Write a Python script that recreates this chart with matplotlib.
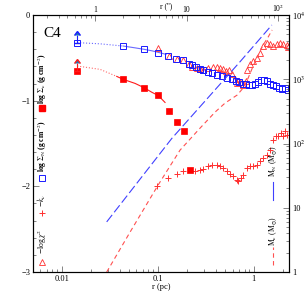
import numpy as np
import matplotlib
matplotlib.use("Agg")
import matplotlib.pyplot as plt
from matplotlib.ticker import FixedLocator, LogLocator, NullFormatter, FuncFormatter, MultipleLocator

plt.rcParams['font.family'] = ['Liberation Serif', 'DejaVu Serif']
plt.rcParams['mathtext.fontset'] = 'stix'

# ---------------- data ----------------
# log Sigma_N (blue open squares)
r_N = [0.0145, 0.0438, 0.072, 0.101, 0.128, 0.155, 0.185, 0.213, 0.229, 0.249, 0.275, 0.298,
       0.336, 0.365, 0.412, 0.464, 0.523, 0.59, 0.655, 0.709, 0.774, 0.832, 0.894, 0.960,
       1.03, 1.11, 1.19, 1.28, 1.38, 1.48, 1.59, 1.71, 1.83, 1.97, 2.12, 2.28]
sig_N = [-0.323, -0.363, -0.401, -0.44, -0.48, -0.51, -0.53, -0.568, -0.588, -0.603, -0.627, -0.643,
         -0.662, -0.674, -0.705, -0.713, -0.732, -0.752, -0.772, -0.784, -0.80, -0.81, -0.822, -0.816,
         -0.80, -0.787, -0.764, -0.758, -0.775, -0.80, -0.822, -0.834, -0.857, -0.869, -0.857, -0.88]

# log Sigma_c (red filled squares)
r_c = [0.0145, 0.0438, 0.072, 0.101, 0.131, 0.157, 0.187, 0.217]
sig_c = [-0.655, -0.752, -0.849, -0.939, -1.123, -1.247, -1.349, -1.813]

# upper-limit arrows at innermost radius
r_lim = [0.0145]
lim_N = [-0.323]
lim_c = [-0.655]

# fitted profiles
r_fitN = [0.0145, 0.0251, 0.0438, 0.0581, 0.072, 0.0873, 0.101, 0.122]
fitN = [-0.323, -0.337, -0.363, -0.384, -0.401, -0.419, -0.436, -0.46]
r_fitc = [0.0145, 0.0251, 0.0374, 0.0438, 0.0581, 0.072, 0.0873, 0.101, 0.119]
fitc = [-0.596, -0.635, -0.717, -0.752, -0.799, -0.849, -0.904, -0.939, -1.021]

# -log chi^2 (red open triangles)
r_d = [0.101, 0.131, 0.158, 0.185, 0.213, 0.226, 0.254, 0.276, 0.298, 0.336, 0.379, 0.411,
       0.445, 0.481, 0.513, 0.555, 0.587, 0.635, 0.670, 0.716, 0.776, 0.822, 0.855, 0.915,
       0.99, 1.07, 1.16, 1.25, 1.36, 1.47, 1.60, 1.73, 1.87, 2.02, 2.19, 2.27]
sig_d = [-0.39, -0.483, -0.518, -0.526, -0.577, -0.608, -0.615, -0.635, -0.643, -0.615, -0.608, -0.603,
         -0.615, -0.635, -0.655, -0.643, -0.694, -0.752, -0.79, -0.784, -0.822, -0.775, -0.643, -0.577,
         -0.538, -0.498, -0.44, -0.363, -0.331, -0.343, -0.363, -0.343, -0.323, -0.343, -0.354, -0.37]

# -k (red plus)
r_k = [0.0976, 0.129, 0.158, 0.185, 0.245, 0.276, 0.299, 0.336, 0.365, 0.412, 0.446, 0.482,
       0.523, 0.567, 0.613, 0.665, 0.691, 0.733, 0.780, 0.846, 0.915, 0.99, 1.07, 1.16,
       1.26, 1.36, 1.48, 1.60, 1.70, 1.80, 1.92, 2.03, 2.12, 2.21]
k_val = [-2.0, -1.902, -1.851, -1.825, -1.825, -1.813, -1.796, -1.766, -1.746, -1.746, -1.758, -1.785,
         -1.825, -1.851, -1.883, -1.930, -1.942, -1.902, -1.863, -1.785, -1.758, -1.766, -1.746, -1.708,
         -1.668, -1.629, -1.571, -1.454, -1.415, -1.415, -1.376, -1.415, -1.357, -1.395]

# cumulative masses (right axis)
r_MN = [0.0294, 0.140, 0.719, 1.54]
M_N = [6.03, 120, 1874, 6980]
r_Mc = [0.0294, 0.0514, 0.1007, 0.1706, 0.276, 0.395, 0.502, 0.670, 0.774, 0.873, 0.984, 1.11, 1.25, 1.41, 1.55]
M_c = [1.0, 4.17, 22.5, 78.9, 174, 308, 426, 567, 729, 1045, 1606, 2384, 3410, 4540, 5840]

# ---------------- figure ----------------
fig = plt.figure(figsize=(3.05, 3.05), dpi=100)
ax = fig.add_axes([0.108, 0.108, 0.840, 0.843])
RED = '#ff1a1a'
BLUE = '#1a1aff'

ax.set_xscale('log')
ax.set_xlim(0.00502, 2.33)
ax.set_ylim(-3, 0)

# fits
ax.plot(r_fitN[:3], fitN[:3], color='#6a6aff', lw=0.8, ls=':')
ax.plot(r_fitN[2:], fitN[2:], color='#6a6aff', lw=0.8, ls='-')
ax.plot(r_fitc[:3], fitc[:3], color='#ff6a6a', lw=0.8, ls=':')
ax.plot(r_fitc[2:], fitc[2:], color=RED, lw=0.8, ls='-')

ax.plot(r_k, k_val, ls='none', marker='+', ms=5, mew=0.7, color='#ff3030')
ax.plot(r_d, sig_d, ls='none', marker='^', ms=4, mew=0.6, mfc='none', mec='#ff3030')
ax.plot(r_N, sig_N, ls='none', marker='s', ms=3.8, mew=0.7, mfc='none', mec=BLUE)
ax.plot(r_c, sig_c, ls='none', marker='s', ms=3.8, mew=0.5, mfc='red', mec='red')

ax.errorbar(r_lim, lim_N, yerr=0.09, lolims=True, fmt='none', ecolor=BLUE, elinewidth=0.8, capsize=2)
ax.errorbar(r_lim, lim_c, yerr=0.09, lolims=True, fmt='none', ecolor=RED, elinewidth=0.8, capsize=2)

ax.yaxis.set_major_locator(MultipleLocator(1))
ax.yaxis.set_minor_locator(MultipleLocator(0.2))
ax.xaxis.set_major_locator(FixedLocator([0.01, 0.1, 1]))
ax.xaxis.set_minor_locator(LogLocator(base=10, subs=np.arange(2, 10)))
ax.xaxis.set_major_formatter(FuncFormatter(lambda v, p: {0.01: '0.01', 0.1: '0.1', 1: '1'}.get(round(v, 3), '')))
ax.xaxis.set_minor_formatter(NullFormatter())
ax.yaxis.set_major_formatter(FuncFormatter(lambda v, p: '\u2212%d' % abs(v) if v < 0 else '0'))
ax.tick_params(which='both', direction='in', labelsize=6, color='#555555', width=0.5, pad=2)
ax.tick_params(which='major', length=4)
ax.tick_params(which='minor', length=2)
ax.tick_params(axis='y', which='both', right=False)
ax.tick_params(axis='x', which='both', top=False)
ax.set_xlabel('r (pc)', fontsize=6, labelpad=0)
for s in ax.spines.values():
    s.set_linewidth(0.6)
    s.set_color('#444444')

# right axis: masses
axr = ax.twinx()
axr.set_yscale('log')
axr.set_ylim(1, 1e4)
axr.plot(r_MN, M_N, color='#4040ff', lw=0.8, dashes=(8, 3))
axr.plot(r_Mc, M_c, color='#ff5050', lw=0.8, dashes=(4, 3))
axr.set_xlim(0.00502, 2.33)
def rfmt(v, p):
    e = int(round(np.log10(v)))
    return {0: '1', 1: '10'}.get(e, r'10$^{%d}$' % e)
axr.yaxis.set_major_locator(FixedLocator([1, 10, 100, 1000, 10000]))
axr.yaxis.set_major_formatter(FuncFormatter(rfmt))
axr.yaxis.set_minor_locator(LogLocator(base=10, subs=np.arange(2, 10)))
axr.yaxis.set_minor_formatter(NullFormatter())
axr.tick_params(which='both', direction='in', labelsize=6, color='#555555', width=0.5, pad=2)
axr.tick_params(which='major', length=4)
axr.tick_params(which='minor', length=2)

# top axis: arcsec
axt = ax.twiny()
axt.set_xscale('log')
axt.set_xlim(0.21, 132)
axt.xaxis.set_major_locator(FixedLocator([1, 10, 100]))
axt.xaxis.set_major_formatter(FuncFormatter(lambda v, p: {1: '1', 10: '10', 100: r'10$^{2}$'}.get(int(round(v)), '')))
axt.xaxis.set_minor_locator(LogLocator(base=10, subs=np.arange(2, 10)))
axt.xaxis.set_minor_formatter(NullFormatter())
axt.tick_params(which='both', direction='in', labelsize=5.5, color='#555555', width=0.5, pad=1)
axt.tick_params(which='major', length=4)
axt.tick_params(which='minor', length=2)
axt.set_xlabel("r ('')", fontsize=5.5)
axt.xaxis.set_label_coords(0.52, 1.027)

ax.text(0.04, 0.955, 'C4', transform=ax.transAxes, fontsize=11, va='top', ha='left')

# in-plot legend (left)
lx = 0.035
fs = 5.5
ax.text(lx, 0.75, r'log $\Sigma_{\rm c}$ (g cm$^{-2}$)', transform=ax.transAxes, rotation=90, fontsize=fs, ha='center', va='center', fontweight='bold')
ax.plot([lx], [0.638], transform=ax.transAxes, marker='s', ms=3.8, color='red', ls='none')
ax.text(lx, 0.49, r'log $\Sigma_{\rm N}$ (g cm$^{-2}$)', transform=ax.transAxes, rotation=90, fontsize=fs, ha='center', va='center', fontweight='bold')
ax.plot([lx], [0.366], transform=ax.transAxes, marker='s', ms=3.8, mfc='none', mec=BLUE, mew=0.7, ls='none')
ax.text(lx, 0.28, r'$-k_{\nu}$', transform=ax.transAxes, rotation=90, fontsize=fs, ha='center', va='center')
ax.plot([lx], [0.23], transform=ax.transAxes, marker='+', ms=5, mew=0.7, color='#ff3030', ls='none')
ax.text(lx, 0.12, r'$-$log $\chi^{2}$', transform=ax.transAxes, rotation=90, fontsize=fs, ha='center', va='center')
ax.plot([lx], [0.04], transform=ax.transAxes, marker='^', ms=4, mfc='none', mec='#ff3030', mew=0.6, ls='none')

# in-plot legend (right)
rx = 0.9375
ax.text(rx, 0.43, r'M$_{\rm N}$ (M$_{\odot}$)', transform=ax.transAxes, rotation=90, fontsize=fs, ha='center', va='center')
ax.plot([rx, rx], [0.28, 0.35], transform=ax.transAxes, color='#4040ff', lw=0.8)
ax.text(rx, 0.16, r'M$_{\rm c}$ (M$_{\odot}$)', transform=ax.transAxes, rotation=90, fontsize=fs, ha='center', va='center')
ax.plot([rx, rx], [0.027, 0.097], transform=ax.transAxes, color='#ff5050', lw=0.8, dashes=(4, 3))

fig.savefig('out.png', dpi=100)
